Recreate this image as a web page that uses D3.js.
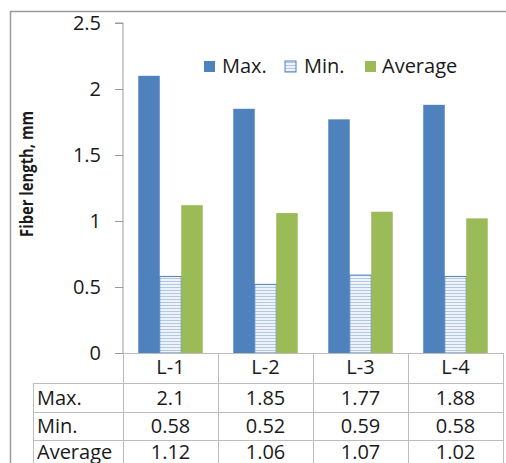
<!DOCTYPE html>
<html>
<head>
<meta charset="utf-8">
<script src="https://cdn.jsdelivr.net/npm/d3@7"></script>
<style>
  html, body { margin: 0; padding: 0; background: #fff; }
  svg { display: block; }
  text { font-family: "Open Sans", "DejaVu Sans", sans-serif; fill: #1a1a1a; }
</style>
</head>
<body>
<svg id="chart" width="506" height="463"></svg>
<script>
// Fiber length per sample
const categories = ["L-1", "L-2", "L-3", "L-4"];
const seriesNames = ["Max.", "Min.", "Average"];
const maxValues = [2.1, 1.85, 1.77, 1.88];
const minValues = [0.58, 0.52, 0.59, 0.58];
const avgValues = [1.12, 1.06, 1.07, 1.02];
const yTicks = [0, 0.5, 1, 1.5, 2, 2.5];
const yTitle = "Fiber length, mm";

const seriesValues = [maxValues, minValues, avgValues];
const colors = ["#4F81BD", "#DCE6F2", "#9BBB59"];
const FS = 20;

const svg = d3.select("#chart");
const defs = svg.append("defs");

// Horizontal-stripe fill for the Min. series
function stripePattern(id) {
  const p = defs.append("pattern")
    .attr("id", id)
    .attr("patternUnits", "userSpaceOnUse")
    .attr("width", 6).attr("height", 3);
  p.append("rect").attr("width", 6).attr("height", 3).attr("fill", "#EEF3F9");
  p.append("rect").attr("y", 2).attr("width", 6).attr("height", 1).attr("fill", "#B4C8E4");
}
stripePattern("stripes");
stripePattern("stripesLegend");

const fills = ["#4F81BD", "url(#stripes)", "#9BBB59"];

// Outer frame
svg.append("path")
  .attr("d", "M10.5,470 L10.5,11.5 L520,11.5")
  .attr("fill", "none").attr("stroke", "#9a9a9a").attr("stroke-width", 1.5);

const plotLeft = 123, plotRight = 503, plotTop = 23, plotBottom = 353;

const y = d3.scaleLinear().domain([0, 2.5]).range([plotBottom, plotTop]);
const x0 = d3.scaleBand().domain(categories).range([plotLeft, plotRight]).paddingInner(0).paddingOuter(0);
const x1 = d3.scaleBand().domain(seriesNames).range([0, x0.bandwidth()]).paddingInner(0).paddingOuter(0.71);

// Y axis
const yAxis = d3.axisLeft(y).tickValues(yTicks).tickSize(8).tickPadding(14)
  .tickFormat(d => d === 0 ? "0" : String(d));
const gy = svg.append("g").attr("transform", `translate(${plotLeft},0)`).call(yAxis);
gy.select(".domain").attr("stroke", "#9a9a9a").attr("d", `M-8,${plotTop}H0V${plotBottom}`);
gy.selectAll(".tick line").attr("stroke", "#9a9a9a");
gy.selectAll(".tick text").attr("font-size", FS).attr("fill", "#1a1a1a")
  .attr("font-family", "\"Open Sans\", sans-serif");

// Y title
svg.append("text")
  .attr("transform", `translate(33,174) rotate(-90)`)
  .attr("text-anchor", "middle")
  .attr("font-size", 17).attr("font-weight", "bold")
  .attr("textLength", 126).attr("lengthAdjust", "spacingAndGlyphs")
  .text(yTitle);

// Bars
const groups = svg.append("g").selectAll("g")
  .data(categories).join("g")
  .attr("transform", d => `translate(${x0(d)},0)`);

groups.selectAll("rect")
  .data((c, ci) => seriesNames.map((s, si) => ({ s, si, v: seriesValues[si][ci] })))
  .join("rect")
  .attr("x", d => x1(d.s))
  .attr("y", d => y(d.v))
  .attr("width", x1.bandwidth())
  .attr("height", d => y(0) - y(d.v))
  .attr("fill", d => fills[d.si])
  .attr("stroke", d => d.si === 1 ? "#4F81BD" : "none")
  .attr("stroke-width", 1);

// Legend
const legendItems = [
  { name: "Max.", x: 204, tx: 222 },
  { name: "Min.", x: 285, tx: 304 },
  { name: "Average", x: 365, tx: 382 }
];
const lg = svg.append("g");
legendItems.forEach((it, i) => {
  lg.append("rect")
    .attr("x", it.x).attr("y", 61).attr("width", 11).attr("height", 11)
    .attr("fill", i === 1 ? "url(#stripesLegend)" : colors[i])
    .attr("stroke", i === 1 ? "#4F81BD" : "none");
  lg.append("text")
    .attr("x", it.tx).attr("y", 73)
    .attr("font-size", FS)
    .text(it.name);
});

// Data table under the plot
const rowLines = [353, 383, 412, 440, 468];
const rowCenters = [367, 398, 426, 452];
const tableLeft = 33;
const gridColor = "#bdbdbd";
const tg = svg.append("g");

// Horizontal rules
tg.append("line").attr("x1", plotLeft).attr("x2", plotRight)
  .attr("y1", rowLines[0] + 0.5).attr("y2", rowLines[0] + 0.5)
  .attr("stroke", gridColor);
rowLines.slice(1).forEach(yy => {
  tg.append("line").attr("x1", tableLeft).attr("x2", plotRight)
    .attr("y1", yy + 0.5).attr("y2", yy + 0.5).attr("stroke", gridColor);
});
// Vertical rules
const colEdges = [plotLeft].concat(categories.map(c => x0(c) + x0.bandwidth()));
colEdges.forEach(xx => {
  tg.append("line").attr("x1", Math.round(xx) + 0.5).attr("x2", Math.round(xx) + 0.5)
    .attr("y1", rowLines[0]).attr("y2", 470).attr("stroke", gridColor);
});
tg.append("line").attr("x1", tableLeft + 0.5).attr("x2", tableLeft + 0.5)
  .attr("y1", rowLines[1]).attr("y2", 470).attr("stroke", gridColor);

// Header: category names
categories.forEach(c => {
  tg.append("text")
    .attr("x", x0(c) + x0.bandwidth() / 2)
    .attr("y", rowCenters[0])
    .attr("dy", "0.35em")
    .attr("text-anchor", "middle").attr("font-size", FS)
    .text(c);
});

// Body rows
seriesNames.forEach((s, si) => {
  const cy = rowCenters[si + 1];
  tg.append("text").attr("x", 37).attr("y", cy).attr("dy", "0.35em")
    .attr("font-size", FS).text(s);
  categories.forEach((c, ci) => {
    tg.append("text")
      .attr("x", x0(c) + x0.bandwidth() / 2)
      .attr("y", cy)
      .attr("dy", "0.35em")
      .attr("text-anchor", "middle").attr("font-size", FS)
      .text(seriesValues[si][ci]);
  });
});
</script>
</body>
</html>
